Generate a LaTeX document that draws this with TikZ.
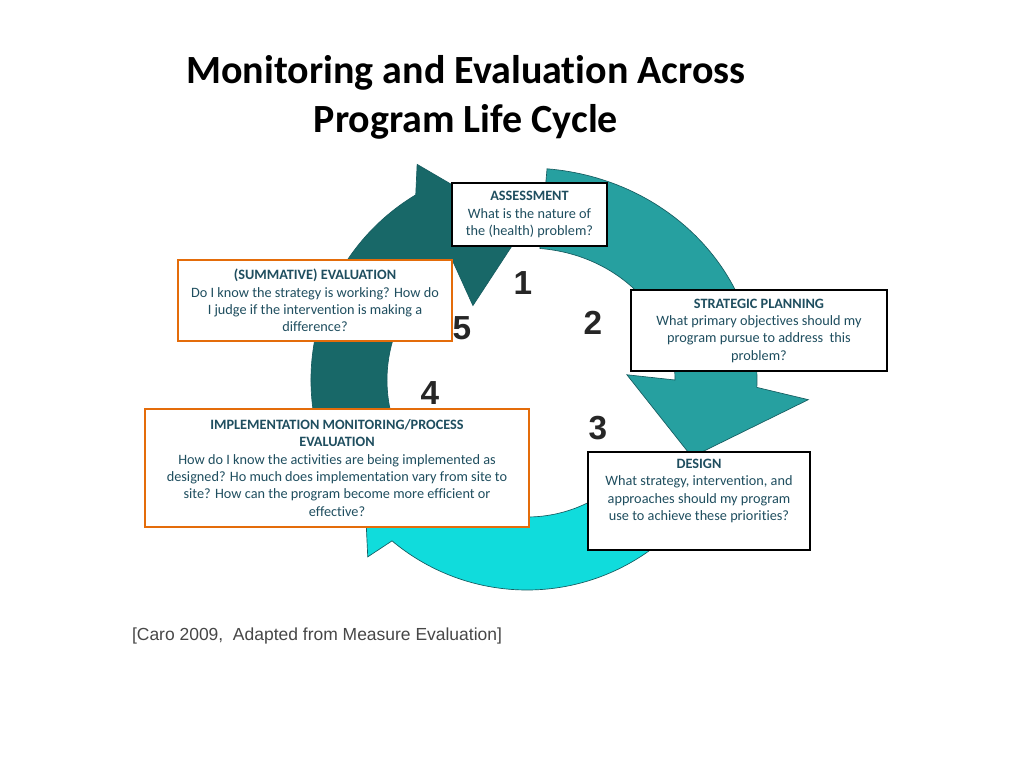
\documentclass[tikz,border=0pt]{standalone}
\usepackage{fontspec}
\setmainfont{Carlito}[Ligatures=CommonOff]
\newfontfamily\arialfont{Liberation Sans}
\usetikzlibrary{calc}
\definecolor{ringdark}{RGB}{24,104,104}
\definecolor{ringmid}{RGB}{38,160,160}
\definecolor{ringlight}{RGB}{16,220,220}
\definecolor{ringedge}{RGB}{22,92,96}
\definecolor{boxtext}{RGB}{31,78,95}
\definecolor{evalorange}{RGB}{228,108,10}

\begin{document}
\begin{tikzpicture}[
        x=0.75pt, y=0.75pt,
        ringpart/.style={draw=ringedge, line width=0.5pt},
        stagebox/.style={draw=black, line width=1.1pt, fill=white, align=center,
            text=boxtext, font=\fontsize{10.7}{13}\selectfont, inner sep=2pt},
        evalbox/.style={stagebox, draw=evalorange, line width=2.2pt},
        boxsize/.style 2 args={minimum width=#1*0.75pt, minimum height=#2*0.75pt},
        stepnum/.style={font=\arialfont\bfseries\fontsize{25}{25}\selectfont, text=black!85},
    ]
    \pgfmathsetmacro\Rout{216} % outer radius of ring
    \pgfmathsetmacro\Rin{140}  % inner radius of ring
    % page
    \fill [white] (0,0) rectangle (1024,768);
    \useasboundingbox (0,0) rectangle (1024,768);
    \coordinate (C) at (527,388);
    % title
    \node (title) at (466,671) [align=center, font=\bfseries\fontsize{30}{36.75}\selectfont]
        {Monitoring and Evaluation Across\\Program Life Cycle};
    % ring: dark part (5 -> 1)
    \draw [ringpart, fill=ringdark] ($(C)+(200:\Rout)$)
        arc [start angle=200, end angle=121, radius=\Rout]
        -- ($(C)+(117:242)$) -- ($(C)+(91:153)$) -- ($(C)+(126:92)$) -- ($(C)+(122:\Rin)$)
        arc [start angle=122, end angle=200, radius=\Rin] -- cycle;
    % ring: middle part (1 -> 3)
    \draw [ringpart, fill=ringmid] ($(C)+(85:230 and 212)$)
        arc [start angle=85, end angle=-2, x radius=230, y radius=212]
        -- ($(C)+(-4:282)$) -- ($(C)+(-25:182)$) -- ($(C)+(3:100)$) -- ($(C)+(0:148 and 132)$)
        arc [start angle=0, end angle=85, x radius=148, y radius=132] -- cycle;
    % ring: light part (3 -> 4)
    \draw [ringpart, fill=ringlight] ($(C)+(-35:210)$)
        arc [start angle=-35, end angle=-130, radius=210]
        -- ($(C)+(228:238)$) -- ($(C)+(196:172)$) -- ($(C)+(231:100)$) -- ($(C)+(230:137)$)
        arc [start angle=-130, end angle=-35, radius=137] -- cycle;
    % step numbers
    \foreach \n/\px/\py in {1/523/485, 2/593/445, 3/598/340, 4/430/375, 5/462/440} {%
        \node (num\n) at (\px,\py) [stepnum] {\n};
    }
    % stage boxes
    \node (assess) at (529.5,553.5) [stagebox, boxsize={155}{63}]
        {\textbf{ASSESSMENT}\\What is the nature of\\the (health) problem?};
    \node (planning) at (759,437.5) [stagebox, boxsize={256}{81}]
        {\textbf{STRATEGIC PLANNING}\\What primary objectives should my\\program pursue to address\ \ this\\problem?};
    \node (design) at (699,267) [stagebox, boxsize={222}{98}]
        {\textbf{DESIGN}\\What strategy, intervention, and\\approaches should my program\\use to achieve these priorities?\\[4pt]};
    \node (impl) at (337,300) [evalbox, boxsize={384}{118}]
        {\textbf{IMPLEMENTATION MONITORING/PROCESS}\\\textbf{EVALUATION}\\How do I know the activities are being implemented as\\designed? Ho much does implementation vary from site to\\site? How can the program become more efficient or\\effective?};
    \node (summative) at (315,467.5) [evalbox, boxsize={274}{81}]
        {\textbf{(SUMMATIVE) EVALUATION}\\Do I know the strategy is working? How do\\I judge if the intervention is making a\\difference?};
    % source
    \node (source) at (317,132) [font=\arialfont\fontsize{13.1}{15}\selectfont, text=black!72]
        {[Caro 2009,\ \ Adapted from Measure Evaluation]};
\end{tikzpicture}
\end{document}
